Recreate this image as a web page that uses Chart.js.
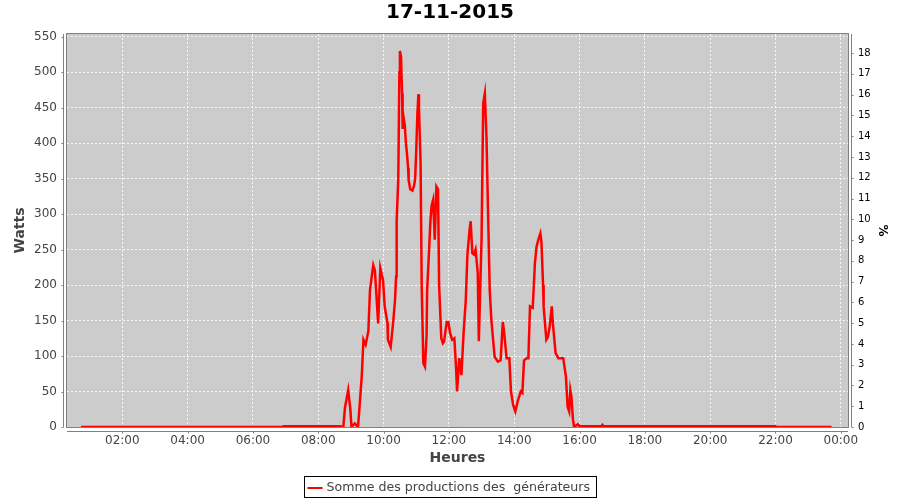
<!DOCTYPE html>
<html>
<head>
<meta charset="utf-8">
<script src="https://cdn.jsdelivr.net/npm/chart.js@4.4.1/dist/chart.umd.min.js"></script>
<style>
    html, body { margin: 0; padding: 0; background: #fff; }
    #wrap { width: 900px; height: 500px; }
</style>
</head>
<body>
<div id="wrap"><canvas id="chartProd"></canvas></div>
<script>
const heures = [
    '00:44', '02:00', '04:00', '06:00', '06:54',
    '06:56', '07:30', '08:00', '08:40',
    '08:46', '08:49', '08:55', '08:59', '09:01', '09:07', '09:13', '09:16', '09:20', '09:23', '09:27', '09:32', '09:35', '09:41', '09:44', '09:50', '09:54', '09:59',
    '10:02', '10:07', '10:08', '10:13', '10:18', '10:21', '10:23', '10:24', '10:27', '10:29', '10:30', '10:32', '10:34', '10:35', '10:37', '10:39', '10:41', '10:43', '10:45', '10:46', '10:49', '10:53', '10:56', '10:58',
    '11:00', '11:02', '11:04', '11:05', '11:08', '11:10', '11:13', '11:16', '11:19', '11:20', '11:23', '11:26', '11:28', '11:31', '11:34', '11:37', '11:40', '11:42', '11:46', '11:49', '11:51', '11:56', '11:59',
    '12:02', '12:06', '12:10', '12:13', '12:15', '12:19', '12:23', '12:27', '12:31', '12:34', '12:38', '12:40', '12:43', '12:46', '12:49', '12:53', '12:55',
    '13:00', '13:03', '13:06', '13:09', '13:12', '13:15', '13:18', '13:21', '13:24', '13:30', '13:35', '13:39', '13:41', '13:46', '13:51', '13:54', '13:58',
    '14:02', '14:07', '14:12', '14:15', '14:18', '14:23', '14:26', '14:29', '14:34', '14:38', '14:41', '14:45', '14:48', '14:50', '14:53', '14:54', '14:59',
    '15:02', '15:05', '15:09', '15:11', '15:16', '15:21', '15:30', '15:35', '15:38', '15:41', '15:43', '15:45', '15:48', '15:50', '15:57',
    '16:00', '16:40', '16:42', '16:44', '18:00', '20:00', '22:00', '22:02', '23:00', '23:43'
];

// Somme des productions (W)
const production = [
    0, 0, 0, 0, 0,
    1, 1, 1, 1,
    0, 27, 52, 24, 0, 5, 0, 30, 73, 123, 116, 135, 193, 228, 221, 146, 224, 207,
    170, 147, 123, 113, 151, 179, 212, 290, 350, 500, 530, 522, 470, 420, 435, 425, 400, 385, 365, 348, 335, 333, 340, 350,
    390, 440, 469, 450, 370, 200, 90, 85, 130, 193, 240, 290, 311, 320, 264, 339, 335, 200, 125, 118, 120, 148, 148,
    133, 123, 125, 85, 50, 97, 73, 133, 179, 243, 278, 290, 245, 243, 250, 217, 121,
    266, 456, 470, 409, 300, 193, 151, 125, 99, 92, 94, 148, 137, 97, 97, 50, 31,
    22, 38, 50, 48, 94, 97, 97, 170, 168, 231, 254, 266, 273, 261, 200, 170, 123,
    127, 141, 170, 146, 104, 97, 97, 71, 29, 22, 52, 43, 10, 0, 4,
    1, 1, 3, 1, 1, 1, 1, 0, 0, 0
];

const titre = '17-11-2015';
const legende = 'Somme des productions des  générateurs';

function enHeures(hhmm) {
    const p = hhmm.split(':');
    return parseInt(p[0]) + parseInt(p[1]) / 60;
}

const points = heures.map((h, i) => ({ x: enHeures(h), y: production[i] }));

// Fond gris, cadre, axes décalés et légende encadrée (style JFreeChart)
const stylePlot = {
    id: 'stylePlot',
    beforeDraw(chart) {
        const { ctx, chartArea: a } = chart;
        ctx.save();
        ctx.fillStyle = '#ffffff';
        ctx.fillRect(0, 0, chart.width, chart.height);
        ctx.fillStyle = '#cccccc';
        ctx.fillRect(a.left, a.top, a.right - a.left, a.bottom - a.top);
        ctx.restore();
    },
    beforeDatasetsDraw(chart) {
        const { ctx, chartArea: a } = chart;
        ctx.save();
        ctx.strokeStyle = '#808080';
        ctx.lineWidth = 1;
        ctx.strokeRect(a.left - 0.5, a.top - 0.5, a.right - a.left + 1, a.bottom - a.top + 1);
        ctx.restore();
    },
    afterDraw(chart) {
        const { ctx, chartArea: a, scales } = chart;
        ctx.save();
        ctx.strokeStyle = '#808080';
        ctx.lineWidth = 1;
        ctx.beginPath();
        // axe gauche
        const xl = a.left - 3.5;
        ctx.moveTo(xl, a.top);
        ctx.lineTo(xl, a.bottom);
        scales.y.ticks.forEach(t => {
            const py = Math.round(scales.y.getPixelForValue(t.value)) + 0.5;
            ctx.moveTo(xl - 2, py);
            ctx.lineTo(xl, py);
        });
        // axe droit
        const xr = a.right + 3.5;
        ctx.moveTo(xr, a.top);
        ctx.lineTo(xr, a.bottom);
        scales.y1.ticks.forEach(t => {
            const py = Math.round(scales.y1.getPixelForValue(t.value)) + 0.5;
            ctx.moveTo(xr, py);
            ctx.lineTo(xr + 2, py);
        });
        // axe bas
        const yb = a.bottom + 4.5;
        ctx.moveTo(a.left, yb);
        ctx.lineTo(a.right, yb);
        scales.x.ticks.forEach(t => {
            const px = Math.round(scales.x.getPixelForValue(t.value)) + 0.5;
            ctx.moveTo(px, yb);
            ctx.lineTo(px, yb + 2);
        });
        ctx.stroke();

        // légende
        ctx.font = '12.6px "DejaVu Sans"';
        const tw = ctx.measureText(legende).width;
        const bw = Math.round(tw + 28);
        const bx = Math.round(450 - bw / 2) + 0.5;
        ctx.strokeStyle = '#000000';
        ctx.strokeRect(bx, 476.5, bw, 21);
        ctx.strokeStyle = '#ff0000';
        ctx.lineWidth = 2;
        ctx.beginPath();
        ctx.moveTo(bx + 3, 488);
        ctx.lineTo(bx + 18, 488);
        ctx.stroke();
        ctx.fillStyle = '#444444';
        ctx.textBaseline = 'middle';
        ctx.fillText(legende, bx + 22, 488);
        ctx.restore();
    }
};

new Chart(document.getElementById('chartProd'), {
    type: 'line',
    data: {
        datasets: [{
            label: legende,
            data: points,
            borderColor: '#ff0000',
            borderWidth: 2.5,
            pointRadius: 0,
            tension: 0,
            yAxisID: 'y'
        }]
    },
    options: {
        responsive: true,
        maintainAspectRatio: false,
        animation: false,
        layout: { padding: 0 },
        font: { family: '"DejaVu Sans"' },
        plugins: {
            legend: { display: false },
            tooltip: { enabled: false },
            title: {
                display: true,
                text: titre,
                color: '#000000',
                font: { family: '"DejaVu Sans"', size: 20, weight: 'bold' },
                padding: { top: 1, bottom: 9 }
            }
        },
        scales: {
            x: {
                type: 'linear',
                min: 0.306,
                max: 24.22,
                afterFit: s => { s.height = 73; },
                border: { display: false, dash: [2, 2] },
                grid: { color: 'rgba(255,255,255,0.85)', drawTicks: false },
                ticks: {
                    stepSize: 2,
                    includeBounds: false,
                    padding: 7,
                    color: '#444444',
                    font: { size: 12 },
                    maxRotation: 0,
                    callback: v => String(v % 24).padStart(2, '0') + ':00'
                },
                title: {
                    display: true,
                    text: 'Heures',
                    color: '#444444',
                    font: { size: 14, weight: 'bold' },
                    padding: { bottom: 33 }
                }
            },
            y: {
                position: 'left',
                min: 0,
                max: 553.8,
                afterFit: s => { s.width = 67; },
                border: { display: false, dash: [2, 2] },
                grid: { color: 'rgba(255,255,255,0.85)', drawTicks: false },
                ticks: {
                    stepSize: 50,
                    includeBounds: false,
                    padding: 10,
                    color: '#444444',
                    font: { size: 12 }
                },
                title: {
                    display: true,
                    text: 'Watts',
                    color: '#444444',
                    font: { size: 14, weight: 'bold' },
                    padding: { top: 12 }
                }
            },
            y1: {
                position: 'right',
                min: 0,
                max: 18.92,
                afterFit: s => { s.width = 52; },
                border: { display: false },
                grid: { display: false, drawTicks: false },
                ticks: {
                    stepSize: 1,
                    includeBounds: false,
                    padding: 10,
                    color: '#000000',
                    font: { size: 10 }
                },
                title: {
                    display: true,
                    text: '%',
                    color: '#000000',
                    font: { size: 12, weight: 'bold' },
                    padding: { top: 11 }
                }
            }
        }
    },
    plugins: [stylePlot]
});
</script>
</body>
</html>
